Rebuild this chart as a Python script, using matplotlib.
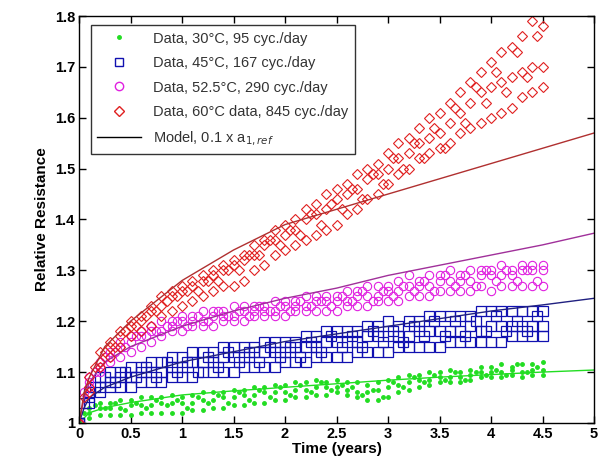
#relative resistance vs time, four temperatures plus model curves

import numpy as np
import matplotlib
matplotlib.use('Agg')
import matplotlib.pyplot as plt
from matplotlib.lines import Line2D

plt.rcParams['font.family'] = ['Liberation Sans', 'DejaVu Sans']

# measurement times (years)
t_data = [0.0, 0.1, 0.2, 0.3, 0.4, 0.5, 0.6, 0.7, 0.8, 0.9,
          1.0, 1.1, 1.2, 1.3, 1.4, 1.5, 1.6, 1.7, 1.8, 1.9,
          2.0, 2.1, 2.2, 2.3, 2.4, 2.5, 2.6, 2.7, 2.8, 2.9,
          3.0, 3.1, 3.2, 3.3, 3.4, 3.5, 3.6, 3.7, 3.8, 3.9,
          4.0, 4.1, 4.2, 4.3, 4.4, 4.5]
# in-between measurement times
t_data2 = [0.05, 0.15, 0.25, 0.35, 0.45, 0.55, 0.65, 0.75, 0.85, 0.95,
           1.05, 1.15, 1.25, 1.35, 1.45, 1.55, 1.65, 1.75, 1.85, 1.95,
           2.05, 2.15, 2.25, 2.35, 2.45, 2.55, 2.65, 2.75, 2.85, 2.95,
           3.05, 3.15, 3.25, 3.35, 3.45, 3.55, 3.65, 3.75, 3.85, 3.95,
           4.05, 4.15, 4.25, 4.35, 4.45]

# 30C, 95 cyc/day
green_a = [1.00, 1.03, 1.04, 1.04, 1.045, 1.045, 1.05, 1.05, 1.05, 1.055,
           1.05, 1.055, 1.06, 1.06, 1.06, 1.065, 1.065, 1.07, 1.07, 1.075,
           1.075, 1.08, 1.08, 1.085, 1.08, 1.085, 1.08, 1.08, 1.075, 1.08,
           1.085, 1.09, 1.095, 1.095, 1.10, 1.10, 1.105, 1.10, 1.105, 1.11,
           1.11, 1.115, 1.11, 1.115, 1.115, 1.12]
green_b = [1.00, 1.02, 1.03, 1.03, 1.03, 1.035, 1.035, 1.035, 1.04, 1.04,
           1.04, 1.04, 1.045, 1.045, 1.05, 1.05, 1.055, 1.055, 1.06, 1.06,
           1.06, 1.065, 1.065, 1.07, 1.07, 1.07, 1.065, 1.06, 1.06, 1.065,
           1.07, 1.075, 1.08, 1.085, 1.085, 1.09, 1.09, 1.09, 1.095, 1.10,
           1.10, 1.10, 1.105, 1.10, 1.105, 1.105]
green_c = [1.00, 1.01, 1.015, 1.015, 1.015, 1.015, 1.02, 1.02, 1.02, 1.02,
           1.02, 1.025, 1.025, 1.03, 1.03, 1.035, 1.035, 1.04, 1.04, 1.045,
           1.045, 1.05, 1.05, 1.055, 1.055, 1.06, 1.055, 1.05, 1.045, 1.045,
           1.05, 1.06, 1.065, 1.07, 1.075, 1.08, 1.08, 1.08, 1.085, 1.09,
           1.09, 1.09, 1.095, 1.09, 1.095, 1.095]
green_d = [1.02, 1.035, 1.03, 1.04, 1.025, 1.04, 1.03, 1.045, 1.035, 1.045,
           1.03, 1.05, 1.04, 1.055, 1.04, 1.06, 1.045, 1.065, 1.05, 1.07,
           1.055, 1.075, 1.06, 1.08, 1.065, 1.075, 1.07, 1.055, 1.065, 1.05,
           1.08, 1.07, 1.09, 1.08, 1.095, 1.085, 1.10, 1.085, 1.10, 1.095,
           1.105, 1.095, 1.115, 1.10, 1.11]

# 45C, 167 cyc/day
blue_a = [1.00, 1.06, 1.09, 1.10, 1.10, 1.11, 1.11, 1.12, 1.12, 1.13,
          1.13, 1.14, 1.14, 1.14, 1.15, 1.15, 1.15, 1.15, 1.16, 1.16,
          1.16, 1.16, 1.17, 1.17, 1.18, 1.18, 1.18, 1.18, 1.19, 1.19,
          1.20, 1.19, 1.20, 1.20, 1.21, 1.21, 1.21, 1.21, 1.21, 1.22,
          1.22, 1.22, 1.22, 1.22, 1.22, 1.22]
blue_b = [1.00, 1.05, 1.07, 1.08, 1.09, 1.09, 1.10, 1.10, 1.10, 1.11,
          1.11, 1.12, 1.12, 1.12, 1.13, 1.13, 1.13, 1.14, 1.14, 1.14,
          1.14, 1.15, 1.15, 1.15, 1.16, 1.16, 1.16, 1.16, 1.17, 1.17,
          1.17, 1.17, 1.17, 1.18, 1.18, 1.18, 1.18, 1.18, 1.19, 1.18,
          1.19, 1.19, 1.19, 1.19, 1.19, 1.19]
blue_c = [1.00, 1.04, 1.06, 1.07, 1.07, 1.07, 1.08, 1.08, 1.08, 1.09,
          1.09, 1.09, 1.10, 1.10, 1.10, 1.10, 1.11, 1.11, 1.11, 1.11,
          1.12, 1.12, 1.12, 1.13, 1.13, 1.13, 1.13, 1.14, 1.14, 1.14,
          1.14, 1.15, 1.15, 1.15, 1.15, 1.15, 1.16, 1.16, 1.16, 1.16,
          1.16, 1.16, 1.17, 1.17, 1.17, 1.17]
blue_d = [1.04, 1.07, 1.09, 1.08, 1.10, 1.09, 1.11, 1.09, 1.12, 1.10,
          1.12, 1.10, 1.13, 1.11, 1.14, 1.12, 1.14, 1.12, 1.15, 1.13,
          1.15, 1.13, 1.16, 1.14, 1.17, 1.15, 1.17, 1.15, 1.18, 1.16,
          1.18, 1.16, 1.19, 1.17, 1.20, 1.17, 1.20, 1.17, 1.20, 1.18,
          1.21, 1.18, 1.20, 1.18, 1.21]

# 52.5C, 290 cyc/day
mag_a = [1.00, 1.09, 1.12, 1.14, 1.16, 1.17, 1.18, 1.19, 1.20, 1.20,
         1.21, 1.21, 1.22, 1.22, 1.22, 1.23, 1.23, 1.23, 1.23, 1.24,
         1.24, 1.24, 1.25, 1.25, 1.25, 1.25, 1.26, 1.26, 1.27, 1.27,
         1.27, 1.28, 1.29, 1.28, 1.29, 1.29, 1.30, 1.29, 1.30, 1.30,
         1.30, 1.31, 1.30, 1.31, 1.31, 1.31]
mag_b = [1.00, 1.08, 1.11, 1.13, 1.15, 1.16, 1.17, 1.18, 1.18, 1.19,
         1.20, 1.20, 1.20, 1.21, 1.21, 1.21, 1.22, 1.22, 1.22, 1.22,
         1.23, 1.23, 1.23, 1.24, 1.24, 1.24, 1.24, 1.25, 1.25, 1.25,
         1.26, 1.26, 1.27, 1.27, 1.27, 1.28, 1.28, 1.28, 1.28, 1.29,
         1.29, 1.29, 1.29, 1.30, 1.30, 1.30]
mag_c = [1.00, 1.07, 1.10, 1.12, 1.13, 1.14, 1.15, 1.16, 1.17, 1.18,
         1.18, 1.19, 1.19, 1.19, 1.20, 1.20, 1.20, 1.21, 1.21, 1.21,
         1.21, 1.22, 1.22, 1.22, 1.22, 1.22, 1.23, 1.23, 1.23, 1.24,
         1.24, 1.24, 1.25, 1.25, 1.25, 1.26, 1.26, 1.26, 1.26, 1.27,
         1.26, 1.27, 1.27, 1.27, 1.27, 1.27]
mag_d = [1.06, 1.10, 1.13, 1.14, 1.15, 1.17, 1.17, 1.18, 1.19, 1.20,
         1.19, 1.21, 1.20, 1.22, 1.21, 1.22, 1.21, 1.23, 1.22, 1.23,
         1.22, 1.24, 1.23, 1.24, 1.23, 1.25, 1.24, 1.26, 1.24, 1.26,
         1.25, 1.27, 1.26, 1.28, 1.26, 1.29, 1.27, 1.29, 1.27, 1.30,
         1.28, 1.30, 1.28, 1.30, 1.28]

# 60C, 845 cyc/day
red_a = [1.00, 1.09, 1.14, 1.16, 1.18, 1.20, 1.21, 1.23, 1.25, 1.26,
         1.27, 1.28, 1.29, 1.30, 1.31, 1.32, 1.33, 1.35, 1.36, 1.38,
         1.39, 1.40, 1.42, 1.43, 1.45, 1.46, 1.47, 1.49, 1.50, 1.51,
         1.53, 1.55, 1.56, 1.58, 1.60, 1.61, 1.63, 1.65, 1.67, 1.69,
         1.71, 1.73, 1.74, 1.76, 1.79, 1.78]
red_b = [1.00, 1.07, 1.12, 1.15, 1.17, 1.19, 1.20, 1.22, 1.23, 1.25,
         1.26, 1.27, 1.28, 1.29, 1.30, 1.31, 1.32, 1.33, 1.35, 1.36,
         1.37, 1.38, 1.40, 1.41, 1.42, 1.44, 1.45, 1.46, 1.48, 1.49,
         1.50, 1.52, 1.53, 1.55, 1.56, 1.57, 1.59, 1.61, 1.63, 1.65,
         1.66, 1.67, 1.68, 1.69, 1.70, 1.70]
red_c = [1.00, 1.06, 1.11, 1.13, 1.15, 1.17, 1.18, 1.19, 1.21, 1.22,
         1.23, 1.24, 1.25, 1.26, 1.27, 1.27, 1.28, 1.30, 1.31, 1.33,
         1.34, 1.35, 1.36, 1.37, 1.38, 1.39, 1.41, 1.42, 1.44, 1.45,
         1.47, 1.49, 1.50, 1.52, 1.53, 1.54, 1.55, 1.57, 1.58, 1.59,
         1.60, 1.61, 1.62, 1.64, 1.65, 1.66]
red_d = [1.05, 1.11, 1.14, 1.15, 1.18, 1.19, 1.21, 1.22, 1.24, 1.25,
         1.26, 1.26, 1.28, 1.28, 1.30, 1.30, 1.33, 1.33, 1.36, 1.35,
         1.38, 1.37, 1.41, 1.39, 1.43, 1.42, 1.46, 1.44, 1.49, 1.47,
         1.52, 1.50, 1.55, 1.52, 1.58, 1.54, 1.62, 1.59, 1.66, 1.63,
         1.69, 1.65, 1.73, 1.68, 1.76]

# model curves
t_model = [0, 0.05, 0.1, 0.25, 0.5, 1, 1.5, 2, 2.5, 3, 3.5, 4, 4.5, 5]
green_model = [1.0, 1.01, 1.02, 1.03, 1.04, 1.055, 1.063, 1.07, 1.077, 1.084, 1.09, 1.095, 1.10, 1.104]
blue_model = [1.0, 1.03, 1.05, 1.07, 1.09, 1.12, 1.14, 1.16, 1.175, 1.19, 1.205, 1.22, 1.232, 1.245]
mag_model = [1.0, 1.05, 1.08, 1.12, 1.15, 1.19, 1.22, 1.245, 1.265, 1.29, 1.31, 1.33, 1.35, 1.373]
red_model = [1.0, 1.06, 1.09, 1.15, 1.20, 1.28, 1.34, 1.39, 1.42, 1.45, 1.48, 1.51, 1.54, 1.57]

labels = ['Data, 30°C, 95 cyc./day',
          'Data, 45°C, 167 cyc./day',
          'Data, 52.5°C, 290 cyc./day',
          'Data, 60°C data, 845 cyc./day',
          'Model, 0.1 x a$_{1,ref}$']

GREEN = '#22dd22'
BLUE = '#1010b0'
MAG = '#e020e0'
RED = '#e02020'

fig = plt.figure(figsize=(6.13, 4.72), dpi=100)
ax = fig.add_axes([0.129, 0.104, 0.840, 0.862])

for ts, ys in ((t_data, green_a), (t_data, green_b), (t_data, green_c), (t_data2, green_d)):
    ax.plot(ts, ys, '.', color=GREEN, markersize=5, linestyle='none')
ax.plot(t_model, green_model, '-', color=GREEN, lw=1)

for ts, ys in ((t_data, blue_a), (t_data, blue_b), (t_data, blue_c), (t_data2, blue_d)):
    ax.plot(ts, ys, 's', mfc='none', mec=BLUE, markersize=6.5, mew=0.9, linestyle='none')
ax.plot(t_model, blue_model, '-', color='#202080', lw=1)

for ts, ys in ((t_data, mag_a), (t_data, mag_b), (t_data, mag_c), (t_data2, mag_d)):
    ax.plot(ts, ys, 'o', mfc='none', mec=MAG, markersize=6, mew=0.8, linestyle='none')
ax.plot(t_model, mag_model, '-', color='#a0309a', lw=1)

for ts, ys in ((t_data, red_a), (t_data, red_b), (t_data, red_c), (t_data2, red_d)):
    ax.plot(ts, ys, 'D', mfc='none', mec=RED, markersize=5.5, mew=0.8, linestyle='none')
ax.plot(t_model, red_model, '-', color='#b03030', lw=1)

# legend handles
handles = [Line2D([], [], marker='.', color=GREEN, ls='none', markersize=5),
           Line2D([], [], marker='s', mfc='none', mec=BLUE, ls='none', markersize=6),
           Line2D([], [], marker='o', mfc='none', mec=MAG, ls='none', markersize=6),
           Line2D([], [], marker='D', mfc='none', mec=RED, ls='none', markersize=5),
           Line2D([], [], color='black', lw=1)]
leg = ax.legend(handles, labels, loc='upper left', bbox_to_anchor=(0.023, 0.978),
                fontsize=10.5, frameon=True, fancybox=False, edgecolor='black',
                borderaxespad=0, handlelength=3.0, labelspacing=0.72,
                borderpad=0.45, handletextpad=0.8)
leg.get_frame().set_linewidth(1)
for txt in leg.get_texts():
    txt.set_color('#333333')

ax.set_xlim(0, 5)
ax.set_ylim(1, 1.8)
ax.set_xticks(np.arange(0, 5.01, 0.5))
ax.set_xticklabels(['0', '0.5', '1', '1.5', '2', '2.5', '3', '3.5', '4', '4.5', '5'])
ax.set_yticks([1.0, 1.1, 1.2, 1.3, 1.4, 1.5, 1.6, 1.7, 1.8])
ax.set_yticklabels(['1', '1.1', '1.2', '1.3', '1.4', '1.5', '1.6', '1.7', '1.8'])
ax.tick_params(direction='in', top=True, right=True, length=5, width=1, labelsize=10.5, pad=3)
for lab in ax.get_xticklabels() + ax.get_yticklabels():
    lab.set_fontweight('bold')
for sp in ax.spines.values():
    sp.set_linewidth(1)

ax.set_xlabel('Time (years)', fontsize=11, fontweight='bold', labelpad=1)
ax.set_ylabel('Relative Resistance', fontsize=11, fontweight='bold', labelpad=4)

fig.savefig('out.png', dpi=100)
